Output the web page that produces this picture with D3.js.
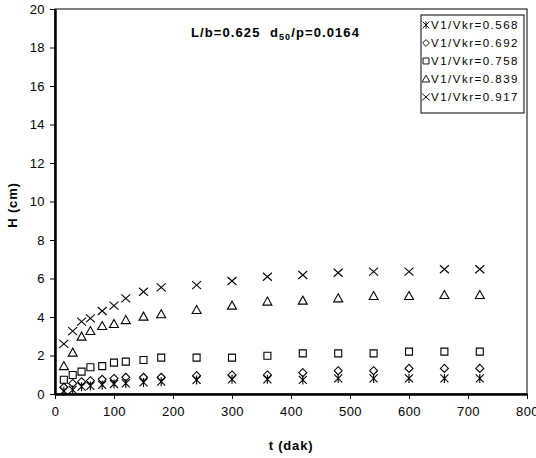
<!DOCTYPE html>
<html>
<head>
<meta charset="utf-8">
<script src="https://cdn.jsdelivr.net/npm/d3@7"></script>
<style>
  body { margin: 0; background: #fff; }
  svg { font-family: "Liberation Sans", Arial, sans-serif; }
  text { white-space: pre; }
</style>
</head>
<body>
<svg id="chart" width="536" height="458"></svg>
<script>
const times = [15, 30, 45, 60, 80, 100, 120, 150, 180, 240, 300, 360, 420, 480, 540, 600, 660, 720];
const h0568 = [0.16, 0.21, 0.38, 0.42, 0.47, 0.52, 0.55, 0.6, 0.64, 0.73, 0.76, 0.76, 0.73, 0.81, 0.81, 0.81, 0.81, 0.81];
const h0692 = [0.35, 0.55, 0.64, 0.69, 0.76, 0.81, 0.87, 0.87, 0.87, 0.95, 0.99, 0.99, 1.11, 1.21, 1.21, 1.33, 1.33, 1.33];
const h0758 = [0.74, 0.99, 1.16, 1.39, 1.45, 1.63, 1.68, 1.77, 1.89, 1.89, 1.89, 1.99, 2.11, 2.11, 2.11, 2.2, 2.2, 2.2];
const h0839 = [1.45, 2.15, 2.98, 3.27, 3.53, 3.64, 3.84, 4.02, 4.14, 4.36, 4.59, 4.8, 4.85, 4.97, 5.09, 5.09, 5.14, 5.14];
const h0917 = [2.6, 3.27, 3.76, 3.93, 4.31, 4.59, 4.97, 5.31, 5.54, 5.66, 5.87, 6.09, 6.18, 6.3, 6.36, 6.36, 6.48, 6.48];
const seriesNames = ['V1/Vkr=0.568', 'V1/Vkr=0.692', 'V1/Vkr=0.758', 'V1/Vkr=0.839', 'V1/Vkr=0.917'];
const seriesMarkers = ['star', 'diamond', 'square', 'triangle', 'cross'];
const xTicks = [0, 100, 200, 300, 400, 500, 600, 700, 800];
const yTicks = [0, 2, 4, 6, 8, 10, 12, 14, 16, 18, 20];

const series = [h0568, h0692, h0758, h0839, h0917].map((vals, i) => ({
  name: seriesNames[i],
  marker: seriesMarkers[i],
  points: times.map((t, j) => ({ t: t, h: vals[j] }))
}));

const svg = d3.select('#chart');
const margin = { top: 9, right: 9, bottom: 64, left: 55 };
const width = 536 - margin.left - margin.right;
const height = 458 - margin.top - margin.bottom;

const x = d3.scaleLinear().domain([0, 800]).range([0, width]);
const y = d3.scaleLinear().domain([0, 20]).range([height, 0]);

const g = svg.append('g').attr('transform', `translate(${margin.left},${margin.top})`);

// frame round the plot
g.append('rect')
  .attr('width', width).attr('height', height)
  .attr('fill', 'none').attr('stroke', '#000').attr('stroke-width', 1);

const xAxis = g.append('g')
  .attr('transform', `translate(0,${height})`)
  .call(d3.axisBottom(x).tickValues(xTicks).tickSize(5).tickPadding(8).tickSizeOuter(0));
const yAxis = g.append('g')
  .call(d3.axisLeft(y).tickValues(yTicks).tickSize(5).tickPadding(5).tickSizeOuter(0));

[xAxis, yAxis].forEach(a => {
  a.select('.domain').attr('stroke-width', 2.5);
  a.selectAll('.tick line').attr('stroke-width', 1);
  a.selectAll('.tick text').attr('font-size', 13).attr('fill', '#000')
    .attr('letter-spacing', 0.4)
    .attr('font-family', '"Liberation Sans", Arial, sans-serif');
});

function markerPath(type) {
  const s = 4;
  switch (type) {
    case 'star':
      return `M${-s},${-s}L${s},${s}M${-s},${s}L${s},${-s}M0,${-s - 0.5}L0,${s + 0.5}`;
    case 'diamond':
      return `M0,${-s}L${s},0L0,${s}L${-s},0Z`;
    case 'square':
      return `M${-3.5},${-3.5}H3.5V3.5H${-3.5}Z`;
    case 'triangle':
      return `M0,${-s - 0.5}L${s + 0.5},${s - 0.5}L${-s - 0.5},${s - 0.5}Z`;
    case 'cross':
      return `M${-s - 0.5},${-s}L${s + 0.5},${s}M${-s - 0.5},${s}L${s + 0.5},${-s}`;
  }
}

series.forEach(s => {
  g.append('g')
    .selectAll('path')
    .data(s.points)
    .enter().append('path')
    .attr('transform', d => `translate(${x(d.t)},${y(d.h)})`)
    .attr('d', markerPath(s.marker))
    .attr('fill', 'none')
    .attr('stroke', '#000')
    .attr('stroke-width', 1.1);
});

// title text
const title = g.append('text')
  .attr('x', 136).attr('y', 28)
  .attr('font-size', 13).attr('font-weight', 'bold')
  .attr('letter-spacing', 1.1);
title.append('tspan').text('L/b=0.625  d');
title.append('tspan').attr('font-size', 9).attr('dy', 3).text('50');
title.append('tspan').attr('dy', -3).text('/p=0.0164');

// legend
const legend = g.append('g').attr('transform', `translate(${421 - margin.left},${15 - margin.top})`);
legend.append('rect')
  .attr('width', 103).attr('height', 98)
  .attr('fill', '#fff').attr('stroke', '#000').attr('stroke-width', 1);
series.forEach((s, i) => {
  const row = legend.append('g').attr('transform', `translate(0,${10 + i * 18})`);
  row.append('path')
    .attr('transform', 'translate(5,0) scale(0.85)')
    .attr('d', markerPath(s.marker))
    .attr('fill', 'none').attr('stroke', '#000').attr('stroke-width', 1.1);
  row.append('text')
    .attr('x', 10).attr('y', 4)
    .attr('font-size', 11.5)
    .attr('letter-spacing', 1.5)
    .text(s.name);
});

// axis labels
svg.append('text')
  .attr('x', 291).attr('y', 450)
  .attr('text-anchor', 'middle')
  .attr('font-size', 13).attr('font-weight', 'bold')
  .attr('letter-spacing', 0.8)
  .text('t (dak)');

svg.append('text')
  .attr('transform', `translate(17,205) rotate(-90)`)
  .attr('text-anchor', 'middle')
  .attr('font-size', 13).attr('font-weight', 'bold')
  .attr('letter-spacing', 0.8)
  .text('H (cm)');
</script>
</body>
</html>
